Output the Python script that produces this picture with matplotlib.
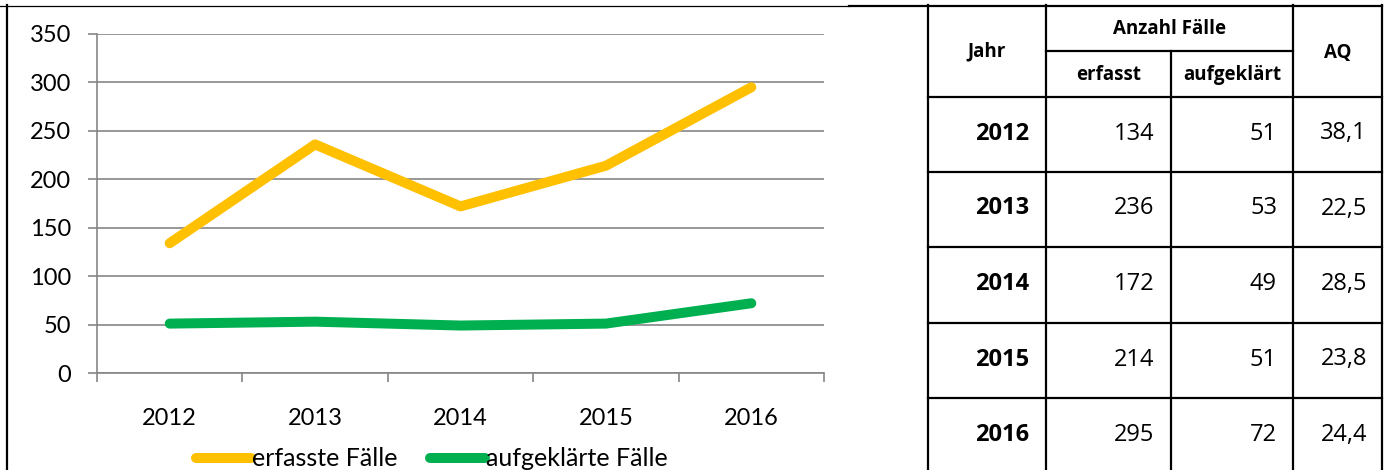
import matplotlib
matplotlib.use("Agg")
import matplotlib.pyplot as plt

# data
jahre = ["2012", "2013", "2014", "2015", "2016"]
erfasst = [134, 236, 172, 214, 295]
aufgeklaert = [51, 53, 49, 51, 72]
aq = [38.1, 22.5, 28.5, 23.8, 24.4]
yticks = [0, 50, 100, 150, 200, 250, 300, 350]

gelb = "#FFC000"
gruen = "#00B050"
grau = "#868686"

plt.rcParams["font.family"] = ["Lato", "DejaVu Sans"]

W, H = 1389, 470
fig = plt.figure(figsize=(W / 100, H / 100), dpi=100)

# --- line chart ---
ax = fig.add_axes([97 / W, (H - 373) / H, (824 - 97) / W, 339 / H])
x = list(range(len(jahre)))
l1, = ax.plot(x, erfasst, color=gelb, lw=7.2, solid_capstyle="round",
              solid_joinstyle="round", label="erfasste Fälle")
l2, = ax.plot(x, aufgeklaert, color=gruen, lw=7.2, solid_capstyle="round",
              solid_joinstyle="round", label="aufgeklärte Fälle")

ax.set_xlim(-0.5, len(jahre) - 0.5)
ax.set_ylim(0, 350)
ax.set_yticks(yticks)
ax.set_xticks(x)
ax.set_xticklabels(jahre)
ax.set_xticks([i - 0.5 for i in range(len(jahre) + 1)], minor=True)
ax.tick_params(axis="x", which="major", length=0, pad=25, labelsize=17)
ax.tick_params(axis="x", which="minor", length=6.5, width=1.2, color=grau)
ax.tick_params(axis="y", length=6.5, width=1.2, color=grau, pad=12, labelsize=17)
ax.grid(axis="y", color=grau, lw=1.2)
ax.set_axisbelow(True)
for s in ["top", "right"]:
    ax.spines[s].set_visible(False)
for s in ["left", "bottom"]:
    ax.spines[s].set_color(grau)
    ax.spines[s].set_linewidth(1.2)

fig.legend(handles=[l1, l2], loc="center", bbox_to_anchor=(432 / W, 11 / H),
           ncol=2, frameon=False, fontsize=18, handlelength=2.2,
           handletextpad=0.05, columnspacing=1.3)

# --- overlay in pixel coordinates for frame and table ---
ov = fig.add_axes([0, 0, 1, 1], zorder=-1)
ov.set_xlim(0, W)
ov.set_ylim(H, 0)
ov.axis("off")
ov.patch.set_alpha(0)

# chart frame
ov.plot([0, 849], [5.5, 5.5], color="black", lw=0.9)
ov.plot([7, 7], [5, H], color="black", lw=1.6)

# table grid
cols = [928, 1046, 1171, 1293, 1382]
rows = [97, 172, 247, 323, 398, 474]
lw = 1.6
ov.plot([849, cols[-1]], [5.5, 5.5], color="black", lw=lw)
for c in [cols[0], cols[1], cols[3], cols[4]]:
    ov.plot([c, c], [5, H], color="black", lw=lw)
ov.plot([cols[2], cols[2]], [51, H], color="black", lw=lw)
ov.plot([cols[1], cols[3]], [51, 51], color="black", lw=lw)
for r in rows[:-1]:
    ov.plot([cols[0], cols[-1]], [r, r], color="black", lw=lw)

tfont = ["Open Sans", "DejaVu Sans"]
hfs = 13.5
hdr = dict(ha="center", va="center", fontsize=hfs, fontweight="bold", family=tfont)
ov.text((cols[0] + cols[1]) / 2, 51, "Jahr", **hdr)
ov.text((cols[1] + cols[3]) / 2, 29, "Anzahl Fälle", **hdr)
ov.text((cols[1] + cols[2]) / 2, 75, "erfasst", **hdr)
ov.text((cols[2] + cols[3]) / 2, 75, "aufgeklärt", **hdr)
ov.text((cols[3] + cols[4]) / 2, 53, "AQ", **hdr)

bfs = 17
for i, j in enumerate(jahre):
    yc = (rows[i] + rows[i + 1]) / 2 - 1
    ov.text(cols[1] - 17, yc, j, ha="right", va="center", fontsize=bfs,
            fontweight="bold", family=tfont)
    ov.text(cols[2] - 17, yc, str(erfasst[i]), ha="right", va="center",
            fontsize=bfs, family=tfont)
    ov.text(cols[3] - 16, yc, str(aufgeklaert[i]), ha="right", va="center",
            fontsize=bfs, family=tfont)
    ov.text(cols[4] - 15, yc, f"{aq[i]:.1f}".replace(".", ","), ha="right",
            va="center", fontsize=bfs, family=tfont)

fig.savefig("out.png", dpi=100)
